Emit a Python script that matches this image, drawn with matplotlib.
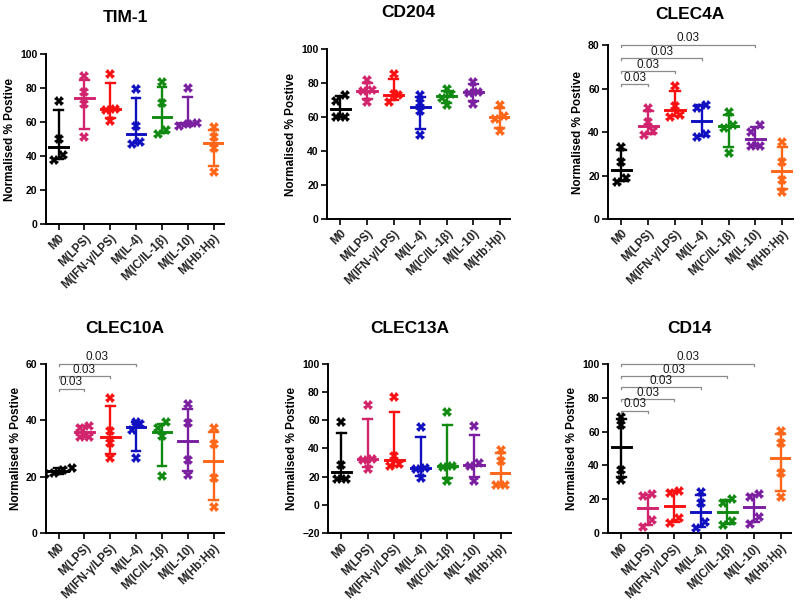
import numpy as np
import matplotlib
matplotlib.use('Agg')
import matplotlib.pyplot as plt

plt.rcParams['font.family'] = ['Liberation Sans', 'DejaVu Sans']

groups = ['M0', 'M(LPS)', 'M(IFN-γ/LPS)', 'M(IL-4)', 'M(IC/IL-1β)', 'M(IL-10)', 'M(Hb:Hp)']
colors = ['#000000', '#d1246c', '#fa1010', '#1010c0', '#118a11', '#7a1fa0', '#ff6618']

# four donors per group, % positive
tim1 = [[72.5, 50, 40.4, 37.6], [87.3, 77.5, 70.6, 51.4], [88.2, 67.8, 67.3, 60.4],
        [79.6, 57.8, 48, 47.3], [83.7, 71, 55.5, 52.9], [80, 59.5, 59, 57.5],
        [57, 51.2, 44.7, 30.6]]
cd204 = [[73.1, 69.7, 60.3, 60.3], [81.9, 76, 75.4, 69.2], [85.3, 73.5, 73.1, 69.2],
         [73.1, 68.2, 63.7, 49.5], [76.5, 73.5, 71.5, 67], [81, 75, 74.5, 67.8],
         [67.2, 60.9, 58.9, 52.1]]
clec4a = [[33.3, 26.4, 18.7, 17.2], [51.3, 44.8, 40.5, 38.5], [61.3, 52, 48.1, 47],
          [52.7, 51.3, 39.1, 37.9], [49.3, 43.2, 42.1, 30.2], [43.2, 39.9, 33.7, 33.7],
          [35.6, 26.4, 18.2, 12.6]]
clec10a = [[23.2, 22.3, 21.5, 21.0], [38, 37.2, 34.2, 33.9], [47.9, 36.1, 31.8, 26.7],
           [39.5, 38.5, 36.5, 26.8], [39.3, 37.1, 34.4, 20.2], [45.8, 39.1, 25.9, 20.8],
           [37.1, 31.5, 19.4, 9.3]]
clec13a = [[58.6, 28.2, 18.1, 18.1], [70.4, 32.7, 32.2, 25.2], [76.2, 34.6, 29, 27.5],
           [55.3, 26.4, 25.6, 19.3], [65.9, 27.5, 27.1, 16.9], [55.8, 29.4, 27.5, 16.9],
           [38.6, 31.1, 13.9, 13.9]]
cd14 = [[68.6, 63.7, 37.6, 31.4], [23.1, 22, 7.8, 3.9], [25.1, 23.5, 8.8, 5.9],
        [24.5, 18, 6.9, 2.9], [20.2, 18, 7.5, 4.9], [23.1, 21.6, 9.4, 5.5],
        [60.2, 53.5, 35.3, 21.6]]

# comparisons vs M0: (group index, bracket height), p value
clec4a_cmp = [(1, 62), (2, 68), (3, 74), (5, 80)]
clec10a_cmp = [(1, 51), (2, 55.5), (3, 60)]
cd14_cmp = [(1, 72), (2, 79), (3, 86), (4, 92.5), (5, 100)]
pval = '0.03'

panels = [
    ('TIM-1', tim1, (0, 100), [0.057, 0.628, 0.223, 0.282], [], 23),
    ('CD204', cd204, (0, 100), [0.409, 0.636, 0.229, 0.282], [], 23),
    ('CLEC4A', clec4a, (0, 80), [0.760, 0.636, 0.231, 0.289], clec4a_cmp, 19),
    ('CLEC10A', clec10a, (0, 60), [0.057, 0.114, 0.223, 0.282], clec10a_cmp, 22),
    ('CLEC13A', clec13a, (-20, 100), [0.410, 0.114, 0.229, 0.282], [], 22),
    ('CD14', cd14, (0, 100), [0.760, 0.114, 0.229, 0.282], cd14_cmp, 22),
]


def swarm(vals, thresh, d=0.34):
    # spread points that sit at about the same height side by side
    order = np.argsort(vals)
    offs = np.zeros(len(vals))
    rows, cur = [], [order[0]]
    for i in order[1:]:
        if vals[i] - vals[cur[0]] < thresh:
            cur.append(i)
        else:
            rows.append(cur)
            cur = [i]
    rows.append(cur)
    for r in rows:
        k = len(r)
        for j, i in enumerate(r):
            offs[i] = (j - (k - 1) / 2) * d
    return offs


fig = plt.figure(figsize=(8, 6.02), dpi=100)

for title, data, ylim, pos, cmps, tpad in panels:
    ax = fig.add_axes(pos)
    rng = ylim[1] - ylim[0]
    for i, vals in enumerate(data):
        vals = np.array(vals, dtype=float)
        c = colors[i]
        q1, med, q3 = np.percentile(vals, [25, 50, 75], method='weibull')
        ax.plot([i, i], [q1, q3], color=c, lw=1.7, zorder=2)
        ax.plot([i - 0.17, i + 0.17], [q1, q1], color=c, lw=1.7, zorder=2)
        ax.plot([i - 0.17, i + 0.17], [q3, q3], color=c, lw=1.7, zorder=2)
        ax.plot([i - 0.36, i + 0.36], [med, med], color=c, lw=2.1, zorder=2)
        offs = swarm(vals, 4.2 * rng / 100)
        ax.plot(i + offs, vals, ls='none', marker='X', ms=6.5, mew=0,
                color=c, zorder=3)
    for j, h in cmps:
        tk = 0.012 * rng
        ax.plot([0, 0, j, j], [h - tk, h, h, h - tk], color='#8a8a8a', lw=0.9,
                clip_on=False, zorder=1)
        ax.text(j / 2, h + 0.004 * rng, pval, ha='center', va='bottom',
                fontsize=8.5, color='#1a1a1a')

    ax.set_xlim(-0.5, 6.4)
    ax.set_ylim(*ylim)
    ax.set_yticks(np.arange(ylim[0], ylim[1] + 1, 20))
    ax.set_xticks(range(len(groups)))
    ax.set_xticklabels(groups, rotation=45, ha='right', rotation_mode='anchor',
                       fontsize=8.3, fontweight='bold', color='#222222')
    for lab in ax.get_yticklabels():
        lab.set_fontweight('bold')
        lab.set_fontsize(7.5)
    ax.set_ylabel('Normalised % Postive', fontsize=8.5, fontweight='bold', labelpad=3)
    ax.set_title(title, fontsize=12.5, fontweight='bold', x=0.445, pad=tpad)
    for s in ['top', 'right']:
        ax.spines[s].set_visible(False)
    for s in ['left', 'bottom']:
        ax.spines[s].set_linewidth(1.4)
    ax.tick_params(direction='out', length=4, width=1.2, pad=2)

fig.savefig('out.png', dpi=100)
